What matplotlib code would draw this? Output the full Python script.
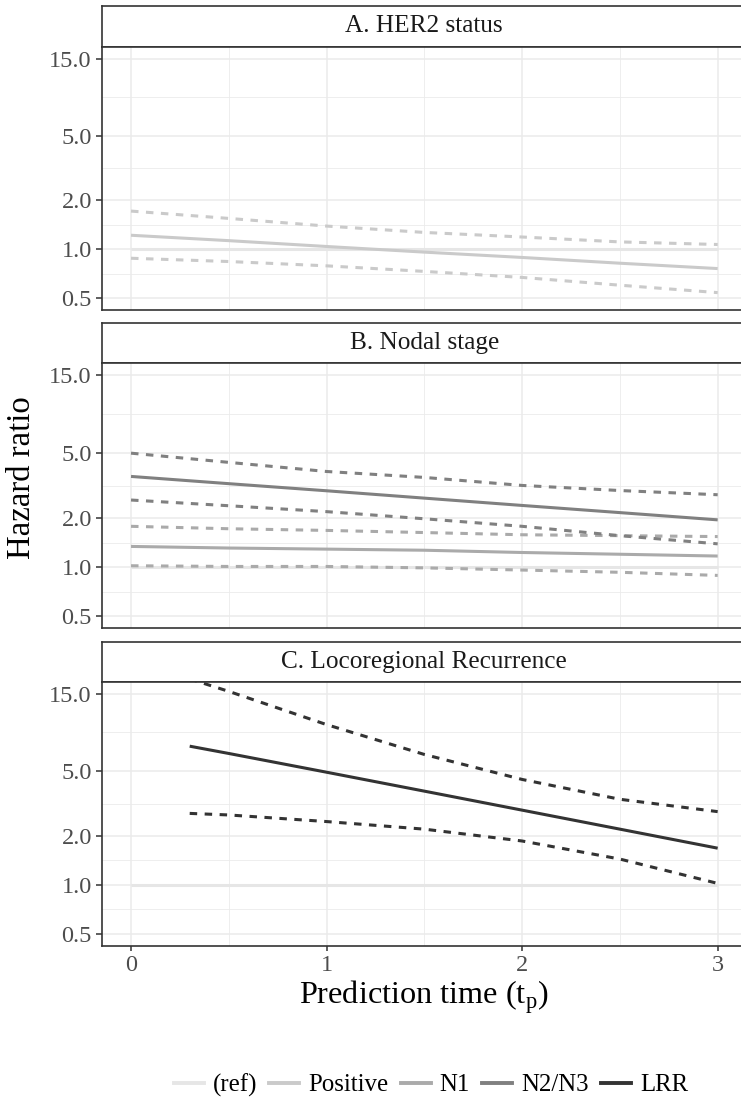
import numpy as np
import matplotlib
matplotlib.use("Agg")
import matplotlib.pyplot as plt
from matplotlib.lines import Line2D
from matplotlib.ticker import FixedLocator, FixedFormatter, NullFormatter

plt.rcParams['font.family'] = ['Liberation Serif', 'DejaVu Serif']
plt.rcParams['mathtext.fontset'] = 'custom'
plt.rcParams['mathtext.rm'] = 'Liberation Serif'

# ---- data ----
tp = [0, 0.5, 1, 1.5, 2, 2.5, 3]
tp_lrr = [0.3, 0.5, 1, 1.5, 2, 2.5, 3]
ref_x = [0, 3]
ref_y = [1, 1]

her2_hr = [1.22, 1.13, 1.04, 0.96, 0.89, 0.82, 0.76]
her2_hi = [1.72, 1.55, 1.39, 1.27, 1.19, 1.11, 1.07]
her2_lo = [0.88, 0.84, 0.79, 0.73, 0.67, 0.60, 0.54]

n1_hr = [1.34, 1.31, 1.29, 1.27, 1.23, 1.20, 1.17]
n1_hi = [1.78, 1.72, 1.68, 1.63, 1.58, 1.56, 1.54]
n1_lo = [1.02, 1.01, 1.01, 0.99, 0.96, 0.93, 0.89]

n23_hr = [3.60, 3.25, 2.94, 2.65, 2.39, 2.16, 1.95]
n23_hi = [5.00, 4.39, 3.86, 3.55, 3.17, 2.95, 2.78]
n23_lo = [2.58, 2.38, 2.19, 1.98, 1.78, 1.56, 1.39]

lrr_hr = [7.13, 6.43, 4.93, 3.77, 2.88, 2.20, 1.68]
lrr_hi = [18.5, 15.5, 9.68, 6.34, 4.45, 3.36, 2.82]
lrr_lo = [2.75, 2.69, 2.45, 2.20, 1.86, 1.44, 1.02]

panel_titles = ['A. HER2 status', 'B. Nodal stage', 'C. Locoregional Recurrence']
legend_labels = ['(ref)', 'Positive', 'N1', 'N2/N3', 'LRR']
colors = ['#E6E6E6', '#CACACA', '#AAAAAA', '#808080', '#333333']
y_breaks = [0.5, 1.0, 2.0, 5.0, 15.0]
y_labels = ['0.5', '1.0', '2.0', '5.0', '15.0']
x_breaks = [0, 1, 2, 3]

# ---- figure / layout (pixel based) ----
W, H = 741, 1101
fig = plt.figure(figsize=(W / 100, H / 100), dpi=100)


def box(x0, y0, x1, y1):
    # pixel box (top-left origin) -> figure fraction rect
    return [x0 / W, 1 - y1 / H, (x1 - x0) / W, (y1 - y0) / H]


LEFT, RIGHT = 101.7, 747.0
panels_px = [(6.0, 46.7, 310.0), (323.3, 363.3, 628.3), (641.7, 681.7, 945.7)]
dark = '#333333'
LW = 2.2
DASH = (2.45, 2.45)

series = [
    [(tp, her2_hr, her2_hi, her2_lo, colors[1])],
    [(tp, n1_hr, n1_hi, n1_lo, colors[2]), (tp, n23_hr, n23_hi, n23_lo, colors[3])],
    [(tp_lrr, lrr_hr, lrr_hi, lrr_lo, colors[4])],
]

ylo = 10 ** (np.log10(0.5) - 0.05 * np.log10(30))
yhi = 10 ** (np.log10(15) + 0.05 * np.log10(30))
minor_y = np.sqrt(np.array(y_breaks[:-1]) * np.array(y_breaks[1:]))

for i, (s_top, p_top, p_bot) in enumerate(panels_px):
    # strip
    sax = fig.add_axes(box(LEFT, s_top, RIGHT, p_top))
    sax.set_xticks([])
    sax.set_yticks([])
    sax.set_facecolor('white')
    for sp in sax.spines.values():
        sp.set_color(dark)
        sp.set_linewidth(1.2)
    sax.text((424.3 - LEFT) / (RIGHT - LEFT), 0.5, panel_titles[i], transform=sax.transAxes,
             ha='center', va='center', fontsize=18.2, color='#1a1a1a')

    ax = fig.add_axes(box(LEFT, p_top, RIGHT, p_bot))
    ax.set_yscale('log')
    ax.set_xlim(-0.15, 3.15)
    ax.set_ylim(ylo, yhi)
    ax.yaxis.set_major_locator(FixedLocator(y_breaks))
    ax.yaxis.set_major_formatter(FixedFormatter(y_labels))
    ax.yaxis.set_minor_locator(FixedLocator(minor_y))
    ax.yaxis.set_minor_formatter(NullFormatter())
    ax.set_xticks(x_breaks)
    ax.set_xticks([0.5, 1.5, 2.5], minor=True)
    ax.grid(which='major', color='#EBEBEB', linewidth=1.1)
    ax.grid(which='minor', color='#EBEBEB', linewidth=0.6)
    ax.set_axisbelow(True)
    for sp in ax.spines.values():
        sp.set_color(dark)
        sp.set_linewidth(1.2)
    ax.tick_params(which='major', axis='y', length=4.3, width=1.1, color=dark,
                   labelsize=17.5, labelcolor='#4D4D4D', pad=2.8)
    ax.tick_params(which='minor', length=0)
    if i < 2:
        ax.tick_params(axis='x', which='major', length=0, labelbottom=False)
    else:
        ax.set_xticklabels([str(v) for v in x_breaks])
        ax.tick_params(axis='x', which='major', length=3.6, width=1.1, color=dark,
                       labelsize=17.5, labelcolor='#4D4D4D', pad=2.9)

    ax.plot(ref_x, ref_y, color=colors[0], linewidth=LW, solid_capstyle='butt', zorder=2)
    for x, hr, hi, lo, c in series[i]:
        ax.plot(x, hi, color=c, linewidth=LW, linestyle=(0, DASH), zorder=3)
        ax.plot(x, lo, color=c, linewidth=LW, linestyle=(0, DASH), zorder=3)
        ax.plot(x, hr, color=c, linewidth=LW, solid_capstyle='butt', zorder=4)

fig.text(424 / W, 1 - 997 / H, 'Prediction time (t$_{\\mathrm{p}}$)', ha='center', va='center',
         fontsize=23.2, color='black')
fig.text(22 / W, 1 - 478 / H, 'Hazard ratio', ha='center', va='center', rotation=90,
         fontsize=23.6, color='black')

handles = [Line2D([], [], color=c, linewidth=LW + 0.6) for c in colors]
fig.legend(handles, legend_labels, ncol=5, loc='center', bbox_to_anchor=(431 / W, 1 - 1085 / H),
           frameon=False, fontsize=17.9, handlelength=1.2, handletextpad=0.37,
           columnspacing=0.49, borderpad=0, borderaxespad=0)

fig.savefig('out.png', dpi=100)
